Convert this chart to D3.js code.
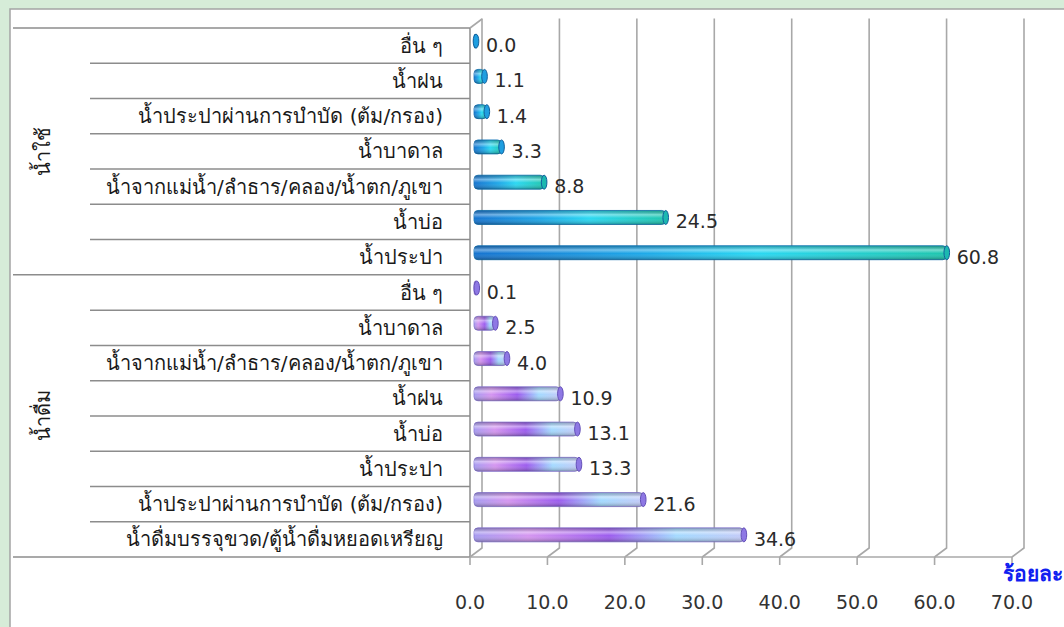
<!DOCTYPE html>
<html>
<head>
<meta charset="utf-8">
<script src="https://cdn.jsdelivr.net/npm/d3@7"></script>
<style>
	body { margin: 0; background: #d6ecd8; overflow: hidden; }
	svg { display: block; }
	text { font-family: Tahoma, "DejaVu Sans", sans-serif; }
</style>
</head>
<body>
<svg width="1064" height="627"></svg>
<script>

	// data (percent)
	var group_names = ["น้ำใช้", "น้ำดื่ม"];

	var use_labels = ["อื่น ๆ", "น้ำฝน", "น้ำประปาผ่านการบำบัด (ต้ม/กรอง)", "น้ำบาดาล",
		"น้ำจากแม่น้ำ/ลำธาร/คลอง/น้ำตก/ภูเขา", "น้ำบ่อ", "น้ำประปา"];
	var use_values = [0.0, 1.1, 1.4, 3.3, 8.8, 24.5, 60.8];

	var drink_labels = ["อื่น ๆ", "น้ำบาดาล", "น้ำจากแม่น้ำ/ลำธาร/คลอง/น้ำตก/ภูเขา", "น้ำฝน",
		"น้ำบ่อ", "น้ำประปา", "น้ำประปาผ่านการบำบัด (ต้ม/กรอง)", "น้ำดื่มบรรจุขวด/ตู้น้ำดื่มหยอดเหรียญ"];
	var drink_values = [0.1, 2.5, 4.0, 10.9, 13.1, 13.3, 21.6, 34.6];

	var x_ticks = [0, 10, 20, 30, 40, 50, 60, 70];
	var unit_label = "ร้อยละ";

	var chart = (function(){

		var svg = d3.select("svg");

		// 3d depth of the plot box
		var depth_x = 12, depth_y = -9;
		var table_left = 13, sub_left = 90, table_right = 470;
		var top_y = 28, floor_y = 557;
		var bar_h = 14;

		var rows = [];
		use_labels.forEach(function(l, i){ rows.push({"label": l, "value": use_values[i], "group": 0}); });
		drink_labels.forEach(function(l, i){ rows.push({"label": l, "value": drink_values[i], "group": 1}); });

		var y = d3.scaleBand().domain(d3.range(rows.length)).range([top_y, floor_y]);
		var x = d3.scaleLinear().domain([0, 70]).range([table_right, 1012]);

		function init(){
			svg.append("rect").attr("x", 10).attr("y", 9).attr("width", 1070).attr("height", 640)
				.attr("fill", "#fff").attr("stroke", "#a4a4a4").attr("stroke-width", 1.5);

			make_gradients();
			draw_table();
			draw_walls();
			draw_bars();
			draw_axis();
		}

		function make_gradients(){
			var defs = svg.append("defs");

			var blue = defs.append("linearGradient").attr("id", "grad_use");
			[["0%", "#1674d0"], ["35%", "#1ea8e8"], ["60%", "#2ad8f2"], ["100%", "#1fc6ae"]].forEach(function(s){
				blue.append("stop").attr("offset", s[0]).attr("stop-color", s[1]);
			});

			var purple = defs.append("linearGradient").attr("id", "grad_drink");
			[["0%", "#a79cf0"], ["20%", "#d596f0"], ["50%", "#9c5cee"], ["75%", "#a4daff"], ["100%", "#c4cbf8"]].forEach(function(s){
				purple.append("stop").attr("offset", s[0]).attr("stop-color", s[1]);
			});

			var shade = defs.append("linearGradient").attr("id", "grad_shade")
				.attr("x1", 0).attr("y1", 0).attr("x2", 0).attr("y2", 1);
			[["0%", "#000", 0.2], ["30%", "#fff", 0.4], ["55%", "#fff", 0], ["100%", "#000", 0.3]].forEach(function(s){
				shade.append("stop").attr("offset", s[0]).attr("stop-color", s[1]).attr("stop-opacity", s[2]);
			});
		}

		function draw_table(){
			var g = svg.append("g").attr("class", "table");
			var line_color = "#8c8c8c";

			// row separators
			d3.range(rows.length + 1).forEach(function(i){
				var yy = i === rows.length ? floor_y : y(i);
				var full = (i === 0 || i === use_values.length || i === rows.length);
				g.append("line")
					.attr("x1", full ? table_left : sub_left).attr("x2", table_right)
					.attr("y1", yy).attr("y2", yy)
					.attr("stroke", line_color).attr("stroke-width", 1.5);
			});

			g.append("line").attr("x1", table_right).attr("x2", table_right)
				.attr("y1", top_y).attr("y2", floor_y)
				.attr("stroke", line_color).attr("stroke-width", 1.5);

			g.selectAll("text.cat").data(rows).enter().append("text")
				.attr("class", "cat")
				.attr("x", 443)
				.attr("y", function(d, i){ return y(i) + y.bandwidth() / 2 + 7; })
				.attr("text-anchor", "end")
				.attr("font-size", 20)
				.attr("fill", "#1a1a1a")
				.text(function(d){ return d.label; });

			// group titles, rotated
			var spans = [[0, use_values.length], [use_values.length, rows.length]];
			spans.forEach(function(s, gi){
				var cy = (y(s[0]) + (s[1] === rows.length ? floor_y : y(s[1]))) / 2;
				g.append("text")
					.attr("transform", "translate(50," + cy + ") rotate(-90)")
					.attr("text-anchor", "middle")
					.attr("font-size", 20)
					.attr("fill", "#1a1a1a")
					.text(group_names[gi]);
			});
		}

		function draw_walls(){
			var g = svg.append("g").attr("class", "walls");
			var c = "#a8a8a8";

			x_ticks.forEach(function(t){
				var fx = x(t), bx = x(t) + depth_x;
				g.append("polyline")
					.attr("points", [[bx, top_y + depth_y - 0.5], [bx, floor_y + depth_y], [fx, floor_y]].join(" "))
					.attr("fill", "none").attr("stroke", c).attr("stroke-width", 1.6);
				g.append("line").attr("x1", fx).attr("x2", fx)
					.attr("y1", floor_y).attr("y2", floor_y + 8)
					.attr("stroke", c).attr("stroke-width", 1.6);
			});

			// side wall top edge
			g.append("line")
				.attr("x1", x(0)).attr("y1", top_y)
				.attr("x2", x(0) + depth_x).attr("y2", top_y + depth_y)
				.attr("stroke", c).attr("stroke-width", 1.6);

			// floor front edge
			g.append("line")
				.attr("x1", table_right).attr("x2", x(70))
				.attr("y1", floor_y).attr("y2", floor_y)
				.attr("stroke", c).attr("stroke-width", 1.6);
		}

		function draw_bars(){
			var g = svg.append("g").attr("class", "bars");
			var off_x = depth_x / 2, off_y = depth_y / 2;

			function bar_y(i){ return y(i) + y.bandwidth() / 2 + off_y; }

			var bar = g.selectAll("g.bar").data(rows).enter().append("g").attr("class", "bar");

			bar.append("rect")
				.attr("x", x(0) + off_x - 2)
				.attr("y", function(d, i){ return bar_y(i) - bar_h / 2; })
				.attr("width", function(d){ return x(d.value) - x(0) + 2; })
				.attr("height", bar_h)
				.attr("rx", 4)
				.attr("fill", function(d){ return d.group === 0 ? "url(#grad_use)" : "url(#grad_drink)"; })
				.attr("stroke", function(d){ return d.group === 0 ? "#1275b8" : "#8a78d8"; })
				.attr("stroke-width", 0.8);

			bar.append("rect")
				.attr("x", x(0) + off_x - 2)
				.attr("y", function(d, i){ return bar_y(i) - bar_h / 2; })
				.attr("width", function(d){ return x(d.value) - x(0) + 2; })
				.attr("height", bar_h)
				.attr("rx", 4)
				.attr("fill", "url(#grad_shade)");

			// end caps
			bar.append("ellipse")
				.attr("cx", function(d){ return x(d.value) + off_x; })
				.attr("cy", function(d, i){ return bar_y(i); })
				.attr("rx", 2.8)
				.attr("ry", bar_h / 2)
				.attr("fill", function(d){ return d.group === 0 ? (d.value < 5 ? "#1e9ee0" : "#1cb8b0") : "#8e78e4"; })
				.attr("stroke", function(d){ return d.group === 0 ? "#10609c" : "#6450b8"; })
				.attr("stroke-width", 1);

			bar.append("text")
				.attr("x", function(d){ return x(d.value) + off_x + 10; })
				.attr("y", function(d, i){ return bar_y(i) + 11; })
				.attr("font-family", "'DejaVu Sans', Verdana, sans-serif")
				.attr("font-size", 19)
				.attr("fill", "#2a2a2a")
				.text(function(d){ return d3.format(".1f")(d.value); });
		}

		function draw_axis(){
			var g = svg.append("g").attr("class", "axis");

			g.selectAll("text").data(x_ticks).enter().append("text")
				.attr("x", function(d){ return x(d); })
				.attr("y", 609)
				.attr("text-anchor", "middle")
				.attr("font-family", "'DejaVu Sans', Verdana, sans-serif")
				.attr("font-size", 19)
				.attr("fill", "#333")
				.text(function(d){ return d3.format(".1f")(d); });

			svg.append("text")
				.attr("x", 1003).attr("y", 581)
				.attr("font-size", 21)
				.attr("font-weight", "bold")
				.attr("fill", "#1020f0")
				.text(unit_label);
		}

		init();

		return null;
	})();

</script>
</body>
</html>
